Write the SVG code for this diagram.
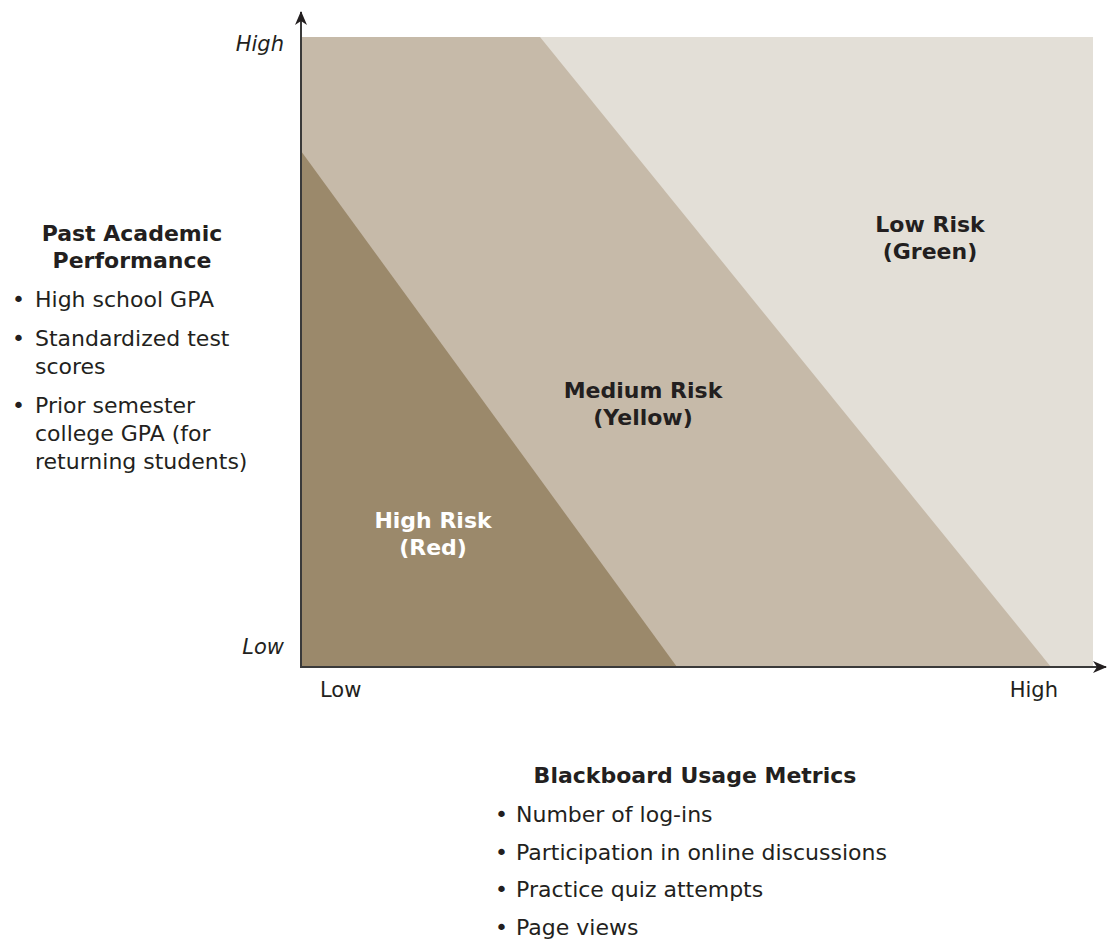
<svg xmlns="http://www.w3.org/2000/svg" width="1107" height="940" viewBox="0 0 1107 940">
<defs>
<style>
.t{font-family:"DejaVu Sans","Liberation Sans",sans-serif;font-size:22px;fill:#231f20}
.b{font-family:"DejaVu Sans","Liberation Sans",sans-serif;font-size:22px;font-weight:bold;fill:#231f20}
.a{font-size:21px}
.i{font-style:italic}
.w{fill:#ffffff}
.ax{stroke:#3a3a3a;stroke-width:2;fill:none}
</style>
<marker id="arrbig" viewBox="0 0 14 12" refX="13" refY="6" markerWidth="14" markerHeight="12" markerUnits="userSpaceOnUse" orient="auto">
<path d="M0,0 L14,6 L0,12 L4,6 Z" fill="#231f20"/>
</marker>
</defs>
<rect width="1107" height="940" fill="#ffffff"/>
<g id="zones">
<rect id="low-risk" x="301" y="37" width="792" height="630" fill="#e3dfd7"/>
<polygon id="medium-risk" points="301,37 540,37 1051,667 301,667" fill="#c6baa9"/>
<polygon id="high-risk" points="301,151 677,667 301,667" fill="#9b896b"/>
</g>
<g id="connectors">
<line class="ax" x1="301" y1="667" x2="301" y2="12" marker-end="url(#arrbig)"/>
<line class="ax" x1="300" y1="667" x2="1106" y2="667" marker-end="url(#arrbig)"/>
</g>
<g id="axis-labels">
<text class="t a i" x="284" y="51" text-anchor="end">High</text>
<text class="t a i" x="284" y="654" text-anchor="end">Low</text>
<text class="t a" x="320" y="697">Low</text>
<text class="t a" x="1058" y="697" text-anchor="end">High</text>
</g>
<g id="label-low">
<text class="b" x="930" y="232" text-anchor="middle">Low Risk</text>
<text class="b" x="930" y="259" text-anchor="middle">(Green)</text>
</g>
<g id="label-medium">
<text class="b" x="643" y="398" text-anchor="middle">Medium Risk</text>
<text class="b" x="643" y="425" text-anchor="middle">(Yellow)</text>
</g>
<g id="label-high">
<text class="b w" x="433" y="528" text-anchor="middle">High Risk</text>
<text class="b w" x="433" y="555" text-anchor="middle">(Red)</text>
</g>
<g id="y-legend">
<text class="b" x="132" y="241" text-anchor="middle">Past Academic</text>
<text class="b" x="132" y="268" text-anchor="middle">Performance</text>
<text class="t" x="12" y="307">•</text><text class="t" x="35" y="307">High school GPA</text>
<text class="t" x="12" y="346">•</text><text class="t" x="35" y="346">Standardized test</text>
<text class="t" x="35" y="374">scores</text>
<text class="t" x="12" y="413">•</text><text class="t" x="35" y="413">Prior semester</text>
<text class="t" x="35" y="441">college GPA (for</text>
<text class="t" x="35" y="469">returning students)</text>
</g>
<g id="x-legend">
<text class="b" x="695" y="783" text-anchor="middle">Blackboard Usage Metrics</text>
<text class="t" x="495" y="822">•</text><text class="t" x="516" y="822">Number of log-ins</text>
<text class="t" x="495" y="860">•</text><text class="t" x="516" y="860">Participation in online discussions</text>
<text class="t" x="495" y="897">•</text><text class="t" x="516" y="897">Practice quiz attempts</text>
<text class="t" x="495" y="935">•</text><text class="t" x="516" y="935">Page views</text>
</g>
</svg>
